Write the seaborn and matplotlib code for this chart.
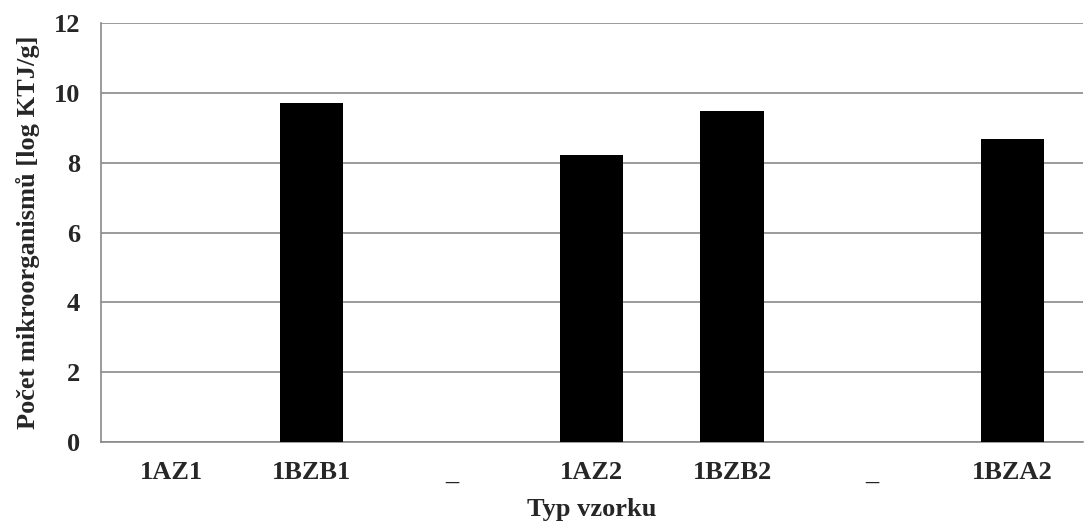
import matplotlib
matplotlib.use("Agg")
import matplotlib.pyplot as plt
import seaborn as sns
import pandas as pd
import numpy as np

categories = ["1AZ1", "1BZB1", "_", "1AZ2", "1BZB2", "_ ", "1BZA2"]
tick_labels = ["1AZ1", "1BZB1", "_", "1AZ2", "1BZB2", "_", "1BZA2"]
values = [0.0, 9.70, 0.0, 8.22, 9.48, 0.0, 8.68]

sns.set_theme(style="white")
plt.rcParams["font.family"] = ["Liberation Serif", "DejaVu Serif"]
plt.rcParams["font.weight"] = "bold"

df = pd.DataFrame({"cat": categories, "val": values})

fig = plt.figure(figsize=(10.84, 5.24), dpi=100)
ax = fig.add_axes([0.0932, 0.1565, 0.9055, 0.7995])

sns.barplot(data=df, x="cat", y="val", order=categories, color="black",
            width=0.45, saturation=1, ax=ax, zorder=3)
for p in ax.patches:
    p.set_linewidth(0)

ax.set_ylim(0, 12)
ax.set_yticks(np.arange(0, 13, 2))
ax.set_xlim(-0.5, len(categories) - 0.5)
ax.yaxis.grid(True, color="#8a8a8a", linewidth=1.2, zorder=0)
ax.set_axisbelow(True)

fs = 19
ax.set_xticks(np.arange(len(categories)))
ax.set_xticklabels(tick_labels, fontsize=fs, fontweight="bold")
ax.tick_params(axis="x", length=0, pad=14)
ax.set_xticks(np.arange(len(categories) + 1) - 0.5, minor=True)
ax.tick_params(axis="x", which="minor", length=6, color="#8a8a8a", width=1.2, direction="out")

ax.tick_params(axis="y", length=6, color="#8a8a8a", width=1.2, direction="out", labelsize=fs, pad=9)
for lbl in ax.get_yticklabels():
    lbl.set_fontweight("bold")

for s in ["top", "right"]:
    ax.spines[s].set_visible(False)
for s in ["left", "bottom"]:
    ax.spines[s].set_color("#8a8a8a")
    ax.spines[s].set_linewidth(1.2)

ax.set_xlabel("Typ vzorku", fontsize=fs, fontweight="bold", labelpad=10)
ax.set_ylabel("Počet mikroorganismů [log KTJ/g]", fontsize=fs, fontweight="bold", labelpad=10)

fig.savefig("out.png", dpi=100, facecolor="white")
